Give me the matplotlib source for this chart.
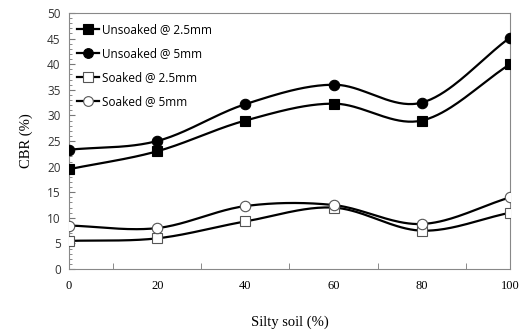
import numpy as np
import matplotlib
matplotlib.use('Agg')
import matplotlib.pyplot as plt
from matplotlib.ticker import MultipleLocator

# Data
silty_soil = [0, 20, 40, 60, 80, 100]
unsoaked_25 = [19.5, 23.0, 29.0, 32.3, 29.0, 40.0]
unsoaked_5 = [23.3, 25.0, 32.2, 36.0, 32.5, 45.2]
soaked_25 = [5.5, 6.0, 9.3, 12.0, 7.5, 11.0]
soaked_5 = [8.5, 8.0, 12.3, 12.5, 8.8, 14.0]

series = [
    ('Unsoaked @ 2.5mm', unsoaked_25, 's', 'black'),
    ('Unsoaked @ 5mm', unsoaked_5, 'o', 'black'),
    ('Soaked @ 2.5mm', soaked_25, 's', 'white'),
    ('Soaked @ 5mm', soaked_5, 'o', 'white'),
]


def smooth(x, y, n=40):
    # Catmull-Rom style curve through the points (like Excel's smoothed line)
    x = np.asarray(x, float)
    y = np.asarray(y, float)
    px = np.concatenate([[2 * x[0] - x[1]], x, [2 * x[-1] - x[-2]]])
    py = np.concatenate([[2 * y[0] - y[1]], y, [2 * y[-1] - y[-2]]])
    xs, ys = [], []
    t = np.linspace(0, 1, n)
    for i in range(1, len(px) - 2):
        for p, out in ((px, xs), (py, ys)):
            p0, p1, p2, p3 = p[i - 1], p[i], p[i + 1], p[i + 2]
            m1 = (p2 - p0) / 2
            m2 = (p3 - p1) / 2
            h00 = 2 * t**3 - 3 * t**2 + 1
            h10 = t**3 - 2 * t**2 + t
            h01 = -2 * t**3 + 3 * t**2
            h11 = t**3 - t**2
            out.extend(h00 * p1 + h10 * m1 + h01 * p2 + h11 * m2)
    return np.array(xs), np.array(ys)


fig = plt.figure(figsize=(5.2, 3.33), dpi=100)
ax = fig.add_axes([0.1327, 0.192, 0.848, 0.769])

for label, vals, mk, fc in series:
    ec = 'black' if fc == 'black' else '#555555'
    sx, sy = smooth(silty_soil, vals)
    ax.plot(sx, sy, color='black', lw=1.6, zorder=2)
    ax.plot(silty_soil, vals, linestyle='none', marker=mk, ms=7.5,
            mfc=fc, mec=ec, mew=0.8, zorder=3)
    ax.plot([], [], color='black', lw=1.6, marker=mk, ms=7, mfc=fc,
            mec=ec, mew=0.8, label=label)

ax.set_xlim(0, 100)
ax.set_ylim(0, 50)
ax.xaxis.set_major_locator(MultipleLocator(20))
ax.xaxis.set_minor_locator(MultipleLocator(10))
ax.yaxis.set_major_locator(MultipleLocator(5))
ax.yaxis.set_minor_locator(MultipleLocator(1))
ax.tick_params(which='both', direction='in', color='#777777')
ax.tick_params(axis='x', which='major', length=0, pad=8)
ax.tick_params(axis='x', which='minor', length=4)
ax.tick_params(axis='y', which='major', length=4, pad=6)
ax.tick_params(axis='y', which='minor', length=2)
for s in ax.spines.values():
    s.set_color('#888888')
    s.set_linewidth(0.8)

for t in ax.get_xticklabels():
    t.set_fontfamily('Liberation Serif')
    t.set_fontsize(9)
for t in ax.get_yticklabels():
    t.set_fontfamily('Open Sans')
    t.set_fontsize(8.5)
    t.set_color('#333333')

ax.set_xlabel('Silty soil (%)', fontfamily='Liberation Serif', fontsize=10.5, labelpad=17)
ax.set_ylabel('CBR (%)', fontfamily='Liberation Serif', fontsize=10.5, labelpad=10)

leg = ax.legend(loc='upper left', frameon=False, prop={'family': 'Open Sans', 'size': 8.5},
                handlelength=1.9, handletextpad=0.25, labelspacing=0.95,
                borderpad=0, borderaxespad=0, bbox_to_anchor=(0.018, 0.962))

fig.savefig('out.png', dpi=100)
